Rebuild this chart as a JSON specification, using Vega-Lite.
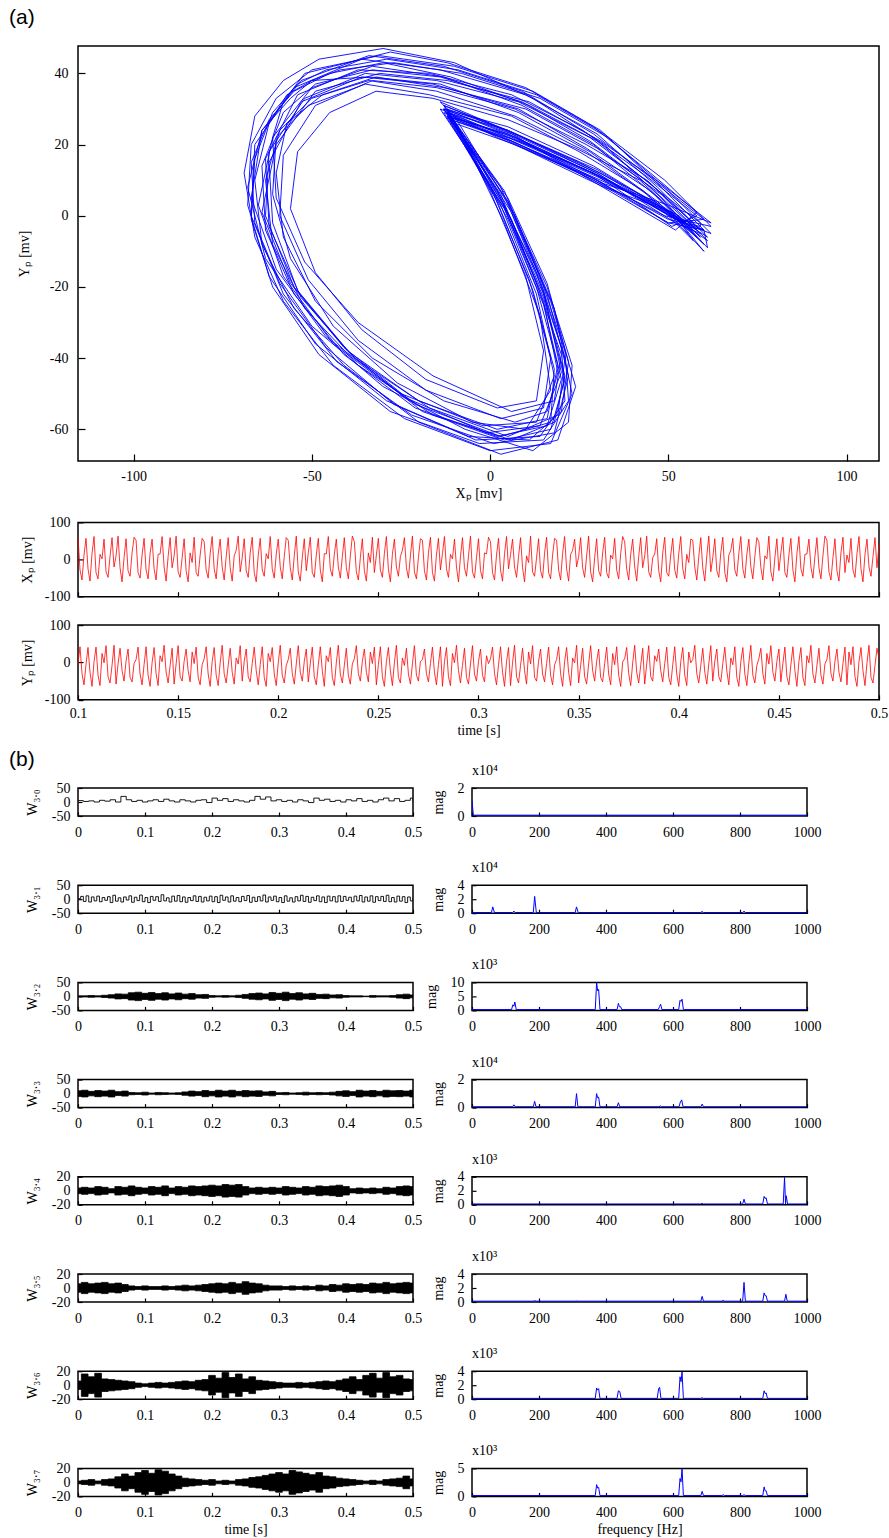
{
"$schema":"https://vega.github.io/schema/vega-lite/v6.json",
"background":"white",
"padding":{"left":8,"top":6,"right":0,"bottom":0},
"spacing":9,
"config":{
"font":"Liberation Serif, Times New Roman, serif",
"locale":{"number":{"decimal":".","thousands":",","grouping":[3],"currency":["$",""],"minus":"-"}},
"view":{"stroke":"black","strokeWidth":1.5},
"axis":{"domain":false,"grid":false,"tickColor":"black","tickWidth":1.2,"tickSize":-4,"labelFont":"Liberation Serif, Times New Roman, serif","labelFontSize":14,"labelColor":"black","labelOverlap":false,"labelFlush":false,"labelPadding":13,"titleFont":"Liberation Serif, Times New Roman, serif","titleFontSize":14,"titleFontWeight":"normal","titleColor":"black","titlePadding":3},
"axisY":{"labelPadding":12,"titlePadding":12},
"title":{"font":"Liberation Serif, Times New Roman, serif","fontSize":14,"fontWeight":"normal","color":"black","anchor":"start","frame":"group"}
},
"datasets":{
"ph":[{"i":0,"x":59,"y":-4},{"i":1,"x":45,"y":9},{"i":2,"x":28,"y":22},{"i":3,"x":8,"y":32},{"i":4,"x":-15,"y":38},{"i":5,"x":-35,"y":40},{"i":6,"x":-52,"y":33},{"i":7,"x":-62,"y":18},{"i":8,"x":-63,"y":0},{"i":9,"x":-55,"y":-20},{"i":10,"x":-40,"y":-38},{"i":11,"x":-20,"y":-52},{"i":12,"x":2,"y":-60},{"i":13,"x":16,"y":-57},{"i":14,"x":19,"y":-42},{"i":15,"x":13,"y":-20},{"i":16,"x":3,"y":5},{"i":17,"x":-12,"y":29},{"i":18,"x":5,"y":22},{"i":19,"x":30,"y":11},{"i":20,"x":50,"y":1},
{"i":21,"x":61,"y":-6},{"i":22,"x":47,"y":8},{"i":23,"x":30,"y":23},{"i":24,"x":10,"y":34},{"i":25,"x":-14,"y":41},{"i":26,"x":-36,"y":44},{"i":27,"x":-55,"y":36},{"i":28,"x":-66,"y":20},{"i":29,"x":-67,"y":0},{"i":30,"x":-58,"y":-22},{"i":31,"x":-43,"y":-41},{"i":32,"x":-22,"y":-56},{"i":33,"x":1,"y":-64},{"i":34,"x":18,"y":-61},{"i":35,"x":22,"y":-45},{"i":36,"x":16,"y":-22},{"i":37,"x":5,"y":4},{"i":38,"x":-13,"y":31},{"i":39,"x":4,"y":24},{"i":40,"x":30,"y":12},{"i":41,"x":52,"y":-1},
{"i":42,"x":57,"y":-2},{"i":43,"x":44,"y":10},{"i":44,"x":27,"y":20},{"i":45,"x":7,"y":30},{"i":46,"x":-15,"y":36},{"i":47,"x":-33,"y":38},{"i":48,"x":-49,"y":31},{"i":49,"x":-58,"y":17},{"i":50,"x":-59,"y":0},{"i":51,"x":-51,"y":-18},{"i":52,"x":-37,"y":-35},{"i":53,"x":-18,"y":-49},{"i":54,"x":3,"y":-57},{"i":55,"x":15,"y":-54},{"i":56,"x":17,"y":-40},{"i":57,"x":11,"y":-18},{"i":58,"x":1,"y":6},{"i":59,"x":-11,"y":27},{"i":60,"x":6,"y":21},{"i":61,"x":31,"y":10},{"i":62,"x":49,"y":2},
{"i":63,"x":60,"y":-8},{"i":64,"x":46,"y":6},{"i":65,"x":29,"y":20},{"i":66,"x":9,"y":31},{"i":67,"x":-13,"y":39},{"i":68,"x":-33,"y":42},{"i":69,"x":-50,"y":36},{"i":70,"x":-61,"y":22},{"i":71,"x":-65,"y":3},{"i":72,"x":-58,"y":-17},{"i":73,"x":-44,"y":-36},{"i":74,"x":-24,"y":-51},{"i":75,"x":-1,"y":-61},{"i":76,"x":14,"y":-59},{"i":77,"x":20,"y":-44},{"i":78,"x":15,"y":-21},{"i":79,"x":4,"y":3},{"i":80,"x":-14,"y":30},{"i":81,"x":3,"y":23},{"i":82,"x":29,"y":12},{"i":83,"x":51,"y":-3},
{"i":84,"x":58,"y":0},{"i":85,"x":44,"y":11},{"i":86,"x":26,"y":24},{"i":87,"x":6,"y":34},{"i":88,"x":-17,"y":40},{"i":89,"x":-37,"y":41},{"i":90,"x":-54,"y":34},{"i":91,"x":-63,"y":16},{"i":92,"x":-62,"y":-3},{"i":93,"x":-53,"y":-23},{"i":94,"x":-38,"y":-40},{"i":95,"x":-17,"y":-54},{"i":96,"x":5,"y":-62},{"i":97,"x":19,"y":-56},{"i":98,"x":21,"y":-40},{"i":99,"x":14,"y":-18},{"i":100,"x":2,"y":7},{"i":101,"x":-11,"y":28},{"i":102,"x":7,"y":22},{"i":103,"x":32,"y":9},{"i":104,"x":50,"y":3},
{"i":105,"x":62,"y":-2},{"i":106,"x":48,"y":9},{"i":107,"x":31,"y":21},{"i":108,"x":11,"y":32},{"i":109,"x":-12,"y":38},{"i":110,"x":-31,"y":40},{"i":111,"x":-49,"y":35},{"i":112,"x":-60,"y":20},{"i":113,"x":-64,"y":1},{"i":114,"x":-56,"y":-19},{"i":115,"x":-41,"y":-37},{"i":116,"x":-21,"y":-53},{"i":117,"x":3,"y":-62},{"i":118,"x":17,"y":-58},{"i":119,"x":18,"y":-43},{"i":120,"x":12,"y":-21},{"i":121,"x":2,"y":4},{"i":122,"x":-12,"y":28},{"i":123,"x":5,"y":23},{"i":124,"x":31,"y":11},{"i":125,"x":53,"y":0},
{"i":126,"x":59,"y":-6},{"i":127,"x":45,"y":7},{"i":128,"x":27,"y":19},{"i":129,"x":8,"y":30},{"i":130,"x":-16,"y":37},{"i":131,"x":-36,"y":39},{"i":132,"x":-53,"y":32},{"i":133,"x":-62,"y":15},{"i":134,"x":-61,"y":-2},{"i":135,"x":-54,"y":-21},{"i":136,"x":-39,"y":-39},{"i":137,"x":-19,"y":-55},{"i":138,"x":4,"y":-63},{"i":139,"x":17,"y":-60},{"i":140,"x":21,"y":-46},{"i":141,"x":15,"y":-23},{"i":142,"x":4,"y":2},{"i":143,"x":-13,"y":29},{"i":144,"x":4,"y":22},{"i":145,"x":29,"y":10},{"i":146,"x":50,"y":-2},
{"i":147,"x":60,"y":-1},{"i":148,"x":46,"y":10},{"i":149,"x":29,"y":23},{"i":150,"x":9,"y":35},{"i":151,"x":-13,"y":42},{"i":152,"x":-34,"y":45},{"i":153,"x":-53,"y":38},{"i":154,"x":-64,"y":24},{"i":155,"x":-67,"y":5},{"i":156,"x":-60,"y":-15},{"i":157,"x":-46,"y":-34},{"i":158,"x":-25,"y":-50},{"i":159,"x":-2,"y":-59},{"i":160,"x":13,"y":-58},{"i":161,"x":18,"y":-45},{"i":162,"x":13,"y":-22},{"i":163,"x":3,"y":3},{"i":164,"x":-12,"y":30},{"i":165,"x":5,"y":24},{"i":166,"x":30,"y":13},{"i":167,"x":52,"y":0},{"i":168,"x":60,"y":-4},
{"i":169,"x":61,"y":-9},{"i":170,"x":48,"y":5},{"i":171,"x":32,"y":20},{"i":172,"x":12,"y":33},{"i":173,"x":-10,"y":43},{"i":174,"x":-30,"y":47},{"i":175,"x":-48,"y":44},{"i":176,"x":-58,"y":38},{"i":177,"x":-66,"y":28},{"i":178,"x":-69,"y":12},{"i":179,"x":-66,"y":-6},{"i":180,"x":-58,"y":-24},{"i":181,"x":-44,"y":-42},{"i":182,"x":-24,"y":-57},{"i":183,"x":0,"y":-66},{"i":184,"x":17,"y":-64},{"i":185,"x":23,"y":-50},{"i":186,"x":18,"y":-26},{"i":187,"x":7,"y":0},{"i":188,"x":-10,"y":28},{"i":189,"x":-14,"y":32},{"i":190,"x":0,"y":26},{"i":191,"x":25,"y":15},{"i":192,"x":48,"y":3},
{"i":193,"x":56,"y":-3},{"i":194,"x":42,"y":10},{"i":195,"x":24,"y":19},{"i":196,"x":5,"y":27},{"i":197,"x":-16,"y":33},{"i":198,"x":-32,"y":35},{"i":199,"x":-45,"y":29},{"i":200,"x":-54,"y":18},{"i":201,"x":-56,"y":2},{"i":202,"x":-49,"y":-16},{"i":203,"x":-36,"y":-32},{"i":204,"x":-18,"y":-46},{"i":205,"x":2,"y":-54},{"i":206,"x":13,"y":-52},{"i":207,"x":15,"y":-38},{"i":208,"x":10,"y":-17},{"i":209,"x":0,"y":7},{"i":210,"x":-10,"y":26},{"i":211,"x":7,"y":20},{"i":212,"x":32,"y":8},{"i":213,"x":51,"y":1},
{"i":214,"x":60,"y":-10},{"i":215,"x":47,"y":4},{"i":216,"x":28,"y":18},{"i":217,"x":8,"y":29},{"i":218,"x":-14,"y":37},{"i":219,"x":-34,"y":39},{"i":220,"x":-50,"y":38},{"i":221,"x":-57,"y":34},{"i":222,"x":-62,"y":26},{"i":223,"x":-66,"y":10},{"i":224,"x":-64,"y":-8},{"i":225,"x":-55,"y":-26},{"i":226,"x":-41,"y":-42},{"i":227,"x":-20,"y":-58},{"i":228,"x":3,"y":-67},{"i":229,"x":19,"y":-63},{"i":230,"x":24,"y":-48},{"i":231,"x":17,"y":-24},{"i":232,"x":6,"y":1},{"i":233,"x":-13,"y":30},{"i":234,"x":6,"y":23},{"i":235,"x":30,"y":9},{"i":236,"x":52,"y":-4},
{"i":237,"x":58,"y":1},{"i":238,"x":45,"y":12},{"i":239,"x":29,"y":25},{"i":240,"x":10,"y":36},{"i":241,"x":-12,"y":43},{"i":242,"x":-28,"y":46},{"i":243,"x":-44,"y":42},{"i":244,"x":-52,"y":40},{"i":245,"x":-58,"y":32},{"i":246,"x":-61,"y":22},{"i":247,"x":-60,"y":5},{"i":248,"x":-52,"y":-13},{"i":249,"x":-37,"y":-30},{"i":250,"x":-16,"y":-45},{"i":251,"x":6,"y":-55},{"i":252,"x":18,"y":-52},{"i":253,"x":20,"y":-39},{"i":254,"x":13,"y":-19},{"i":255,"x":3,"y":6},{"i":256,"x":-11,"y":27},{"i":257,"x":8,"y":21},{"i":258,"x":33,"y":10},{"i":259,"x":54,"y":-2},
{"i":260,"x":62,"y":-5},{"i":261,"x":49,"y":8},{"i":262,"x":33,"y":22},{"i":263,"x":14,"y":33},{"i":264,"x":-8,"y":40},{"i":265,"x":-27,"y":43},{"i":266,"x":-42,"y":41},{"i":267,"x":-50,"y":38},{"i":268,"x":-56,"y":33},{"i":269,"x":-64,"y":24},{"i":270,"x":-68,"y":8},{"i":271,"x":-63,"y":-12},{"i":272,"x":-50,"y":-31},{"i":273,"x":-30,"y":-48},{"i":274,"x":-7,"y":-60},{"i":275,"x":12,"y":-66},{"i":276,"x":22,"y":-58},{"i":277,"x":23,"y":-42},{"i":278,"x":16,"y":-20},{"i":279,"x":5,"y":4},{"i":280,"x":-13,"y":30},{"i":281,"x":5,"y":25},{"i":282,"x":29,"y":14},{"i":283,"x":52,"y":0},
{"i":284,"x":57,"y":-7},{"i":285,"x":43,"y":7},{"i":286,"x":25,"y":18},{"i":287,"x":6,"y":28},{"i":288,"x":-17,"y":34},{"i":289,"x":-35,"y":37},{"i":290,"x":-51,"y":31},{"i":291,"x":-60,"y":22},{"i":292,"x":-61,"y":6},{"i":293,"x":-56,"y":-12},{"i":294,"x":-44,"y":-31},{"i":295,"x":-26,"y":-47},{"i":296,"x":-5,"y":-58},{"i":297,"x":10,"y":-60},{"i":298,"x":17,"y":-49},{"i":299,"x":14,"y":-28},{"i":300,"x":4,"y":-2},{"i":301,"x":-9,"y":25},{"i":302,"x":-12,"y":29},{"i":303,"x":2,"y":22},{"i":304,"x":28,"y":11},{"i":305,"x":50,"y":-1},{"i":306,"x":59,"y":-3},
{"i":307,"x":59,"y":-2},{"i":308,"x":46,"y":8},{"i":309,"x":30,"y":21},{"i":310,"x":11,"y":31},{"i":311,"x":-11,"y":39},{"i":312,"x":-30,"y":43},{"i":313,"x":-45,"y":40},{"i":314,"x":-55,"y":35},{"i":315,"x":-62,"y":27},{"i":316,"x":-67,"y":15},{"i":317,"x":-66,"y":-2},{"i":318,"x":-59,"y":-19},{"i":319,"x":-46,"y":-37},{"i":320,"x":-27,"y":-53},{"i":321,"x":-4,"y":-63},{"i":322,"x":14,"y":-62},{"i":323,"x":21,"y":-52},{"i":324,"x":20,"y":-37},{"i":325,"x":13,"y":-16},{"i":326,"x":3,"y":8},{"i":327,"x":-12,"y":28},{"i":328,"x":4,"y":23},{"i":329,"x":29,"y":12},{"i":330,"x":51,"y":0},
{"i":331,"x":61,"y":-7},{"i":332,"x":48,"y":6},{"i":333,"x":30,"y":19},{"i":334,"x":10,"y":30},{"i":335,"x":-13,"y":36},{"i":336,"x":-32,"y":39},{"i":337,"x":-47,"y":34},{"i":338,"x":-57,"y":26},{"i":339,"x":-60,"y":12},{"i":340,"x":-58,"y":-6},{"i":341,"x":-49,"y":-24},{"i":342,"x":-33,"y":-40},{"i":343,"x":-13,"y":-52},{"i":344,"x":7,"y":-58},{"i":345,"x":16,"y":-55},{"i":346,"x":19,"y":-44},{"i":347,"x":15,"y":-24},{"i":348,"x":6,"y":-1},{"i":349,"x":-6,"y":20},{"i":350,"x":-12,"y":28},{"i":351,"x":6,"y":21},{"i":352,"x":30,"y":10},{"i":353,"x":50,"y":-2},
{"i":354,"x":60,"y":-4},{"i":355,"x":47,"y":9},{"i":356,"x":31,"y":24},{"i":357,"x":12,"y":35},{"i":358,"x":-10,"y":42},{"i":359,"x":-31,"y":45},{"i":360,"x":-50,"y":41},{"i":361,"x":-60,"y":33},{"i":362,"x":-67,"y":20},{"i":363,"x":-68,"y":3},{"i":364,"x":-62,"y":-17},{"i":365,"x":-49,"y":-36},{"i":366,"x":-29,"y":-52},{"i":367,"x":-6,"y":-62},{"i":368,"x":11,"y":-63},{"i":369,"x":20,"y":-55},{"i":370,"x":22,"y":-41},{"i":371,"x":16,"y":-19},{"i":372,"x":5,"y":5},{"i":373,"x":-13,"y":31},{"i":374,"x":5,"y":24},{"i":375,"x":31,"y":12},{"i":376,"x":53,"y":-1},
{"i":377,"x":58,"y":-6},{"i":378,"x":44,"y":6},{"i":379,"x":27,"y":18},{"i":380,"x":7,"y":28},{"i":381,"x":-15,"y":35},{"i":382,"x":-34,"y":38},{"i":383,"x":-50,"y":33},{"i":384,"x":-59,"y":24},{"i":385,"x":-63,"y":10},{"i":386,"x":-61,"y":-8},{"i":387,"x":-52,"y":-26},{"i":388,"x":-37,"y":-42},{"i":389,"x":-16,"y":-56},{"i":390,"x":6,"y":-63},{"i":391,"x":18,"y":-58},{"i":392,"x":21,"y":-45},{"i":393,"x":15,"y":-22},{"i":394,"x":4,"y":2},{"i":395,"x":-12,"y":28},{"i":396,"x":3,"y":22},{"i":397,"x":27,"y":11},{"i":398,"x":49,"y":0},
{"i":399,"x":62,"y":-3},{"i":400,"x":49,"y":10},{"i":401,"x":32,"y":23},{"i":402,"x":13,"y":34},{"i":403,"x":-9,"y":41},{"i":404,"x":-29,"y":44},{"i":405,"x":-46,"y":41},{"i":406,"x":-54,"y":37},{"i":407,"x":-61,"y":29},{"i":408,"x":-66,"y":16},{"i":409,"x":-67,"y":-1},{"i":410,"x":-61,"y":-20},{"i":411,"x":-48,"y":-39},{"i":412,"x":-28,"y":-55},{"i":413,"x":-3,"y":-64},{"i":414,"x":15,"y":-63},{"i":415,"x":22,"y":-52},{"i":416,"x":21,"y":-38},{"i":417,"x":14,"y":-17},{"i":418,"x":4,"y":7},{"i":419,"x":-12,"y":29},{"i":420,"x":5,"y":24},{"i":421,"x":30,"y":12},{"i":422,"x":52,"y":-2},
{"i":423,"x":59,"y":-5},{"i":424,"x":45,"y":8},{"i":425,"x":28,"y":21},{"i":426,"x":9,"y":32},{"i":427,"x":-14,"y":39},{"i":428,"x":-33,"y":41},{"i":429,"x":-49,"y":37},{"i":430,"x":-58,"y":29},{"i":431,"x":-64,"y":14},{"i":432,"x":-63,"y":-4},{"i":433,"x":-55,"y":-22},{"i":434,"x":-41,"y":-39},{"i":435,"x":-21,"y":-54},{"i":436,"x":2,"y":-62},{"i":437,"x":16,"y":-59},{"i":438,"x":20,"y":-46},{"i":439,"x":15,"y":-25},{"i":440,"x":5,"y":-1},{"i":441,"x":-6,"y":19},{"i":442,"x":-13,"y":30},{"i":443,"x":5,"y":23},{"i":444,"x":31,"y":11},{"i":445,"x":52,"y":-1},{"i":446,"x":60,"y":-4}],
"ts":[{"t":0.100,"x":60,"y":-3},{"t":0.101,"x":-28,"y":42},{"t":0.102,"x":-55,"y":-30},{"t":0.103,"x":12,"y":-60},{"t":0.104,"x":57,"y":-6},{"t":0.105,"x":-25,"y":40},{"t":0.106,"x":-58,"y":-26},{"t":0.107,"x":16,"y":-64},{"t":0.108,"x":62,"y":2},{"t":0.109,"x":-35,"y":41},
{"t":0.110,"x":-52,"y":-34},{"t":0.111,"x":14,"y":-62},{"t":0.112,"x":2,"y":24},{"t":0.113,"x":55,"y":-1},{"t":0.114,"x":-33,"y":45},{"t":0.115,"x":-48,"y":-38},{"t":0.116,"x":8,"y":-55},{"t":0.117,"x":59,"y":-8},{"t":0.118,"x":-20,"y":46},{"t":0.119,"x":10,"y":-58},
{"t":0.120,"x":63,"y":-4},{"t":0.121,"x":-22,"y":38},{"t":0.122,"x":-60,"y":-22},{"t":0.123,"x":5,"y":-50},{"t":0.124,"x":56,"y":3},{"t":0.125,"x":-30,"y":36},{"t":0.126,"x":-45,"y":-40},{"t":0.127,"x":18,"y":-52},{"t":0.128,"x":60,"y":-3},{"t":0.129,"x":52,"y":8},
{"t":0.130,"x":-35,"y":41},{"t":0.131,"x":-50,"y":-31},{"t":0.132,"x":12,"y":-60},{"t":0.133,"x":57,"y":-6},{"t":0.134,"x":-28,"y":42},{"t":0.135,"x":-52,"y":-34},{"t":0.136,"x":16,"y":-64},{"t":0.137,"x":55,"y":-1},{"t":0.138,"x":-25,"y":40},{"t":0.139,"x":-55,"y":-30},
{"t":0.140,"x":14,"y":-62},{"t":0.141,"x":15,"y":18},{"t":0.142,"x":62,"y":2},{"t":0.143,"x":-20,"y":46},{"t":0.144,"x":-58,"y":-26},{"t":0.145,"x":8,"y":-55},{"t":0.146,"x":59,"y":-8},{"t":0.147,"x":-22,"y":38},{"t":0.148,"x":10,"y":-58},{"t":0.149,"x":63,"y":-4},
{"t":0.150,"x":-33,"y":45},{"t":0.151,"x":-48,"y":-38},{"t":0.152,"x":5,"y":-50},{"t":0.153,"x":56,"y":3},{"t":0.154,"x":-30,"y":36},{"t":0.155,"x":-60,"y":-22},{"t":0.156,"x":18,"y":-52},{"t":0.157,"x":-8,"y":28},{"t":0.158,"x":60,"y":-3},{"t":0.159,"x":-35,"y":41},
{"t":0.160,"x":-45,"y":-40},{"t":0.161,"x":12,"y":-60},{"t":0.162,"x":57,"y":-6},{"t":0.163,"x":48,"y":10},{"t":0.164,"x":-28,"y":42},{"t":0.165,"x":-50,"y":-31},{"t":0.166,"x":16,"y":-64},{"t":0.167,"x":62,"y":2},{"t":0.168,"x":-25,"y":40},{"t":0.169,"x":-52,"y":-34},
{"t":0.170,"x":14,"y":-62},{"t":0.171,"x":55,"y":-1},{"t":0.172,"x":-20,"y":46},{"t":0.173,"x":-55,"y":-30},{"t":0.174,"x":8,"y":-55},{"t":0.175,"x":59,"y":-8},{"t":0.176,"x":-22,"y":38},{"t":0.177,"x":-58,"y":-26},{"t":0.178,"x":10,"y":-58},{"t":0.179,"x":25,"y":12},
{"t":0.180,"x":63,"y":-4},{"t":0.181,"x":-33,"y":45},{"t":0.182,"x":5,"y":-50},{"t":0.183,"x":56,"y":3},{"t":0.184,"x":-30,"y":36},{"t":0.185,"x":-48,"y":-38},{"t":0.186,"x":18,"y":-52},{"t":0.187,"x":60,"y":-3},{"t":0.188,"x":-35,"y":41},{"t":0.189,"x":-60,"y":-22},
{"t":0.190,"x":12,"y":-60},{"t":0.191,"x":57,"y":-6},{"t":0.192,"x":-28,"y":42},{"t":0.193,"x":-45,"y":-40},{"t":0.194,"x":16,"y":-64},{"t":0.195,"x":2,"y":24},{"t":0.196,"x":62,"y":2},{"t":0.197,"x":-25,"y":40},{"t":0.198,"x":-50,"y":-31},{"t":0.199,"x":14,"y":-62},
{"t":0.200,"x":55,"y":-1},{"t":0.201,"x":-20,"y":46},{"t":0.202,"x":-52,"y":-34},{"t":0.203,"x":8,"y":-55},{"t":0.204,"x":59,"y":-8},{"t":0.205,"x":52,"y":8},{"t":0.206,"x":-22,"y":38},{"t":0.207,"x":-55,"y":-30},{"t":0.208,"x":10,"y":-58},{"t":0.209,"x":63,"y":-4},
{"t":0.210,"x":-33,"y":45},{"t":0.211,"x":-58,"y":-26},{"t":0.212,"x":5,"y":-50},{"t":0.213,"x":56,"y":3},{"t":0.214,"x":-30,"y":36},{"t":0.215,"x":18,"y":-52},{"t":0.216,"x":60,"y":-3},{"t":0.217,"x":-35,"y":41},{"t":0.218,"x":-48,"y":-38},{"t":0.219,"x":12,"y":-60},
{"t":0.220,"x":57,"y":-6},{"t":0.221,"x":-28,"y":42},{"t":0.222,"x":-60,"y":-22},{"t":0.223,"x":16,"y":-64},{"t":0.224,"x":15,"y":18},{"t":0.225,"x":62,"y":2},{"t":0.226,"x":-25,"y":40},{"t":0.227,"x":-45,"y":-40},{"t":0.228,"x":14,"y":-62},{"t":0.229,"x":55,"y":-1},
{"t":0.230,"x":-20,"y":46},{"t":0.231,"x":-50,"y":-31},{"t":0.232,"x":8,"y":-55},{"t":0.233,"x":59,"y":-8},{"t":0.234,"x":-22,"y":38},{"t":0.235,"x":-52,"y":-34},{"t":0.236,"x":10,"y":-58},{"t":0.237,"x":63,"y":-4},{"t":0.238,"x":48,"y":10},{"t":0.239,"x":-33,"y":45},
{"t":0.240,"x":-55,"y":-30},{"t":0.241,"x":5,"y":-50},{"t":0.242,"x":56,"y":3},{"t":0.243,"x":-30,"y":36},{"t":0.244,"x":-58,"y":-26},{"t":0.245,"x":18,"y":-52},{"t":0.246,"x":-8,"y":28},{"t":0.247,"x":60,"y":-3},{"t":0.248,"x":-35,"y":41},{"t":0.249,"x":12,"y":-60},
{"t":0.250,"x":57,"y":-6},{"t":0.251,"x":-28,"y":42},{"t":0.252,"x":-48,"y":-38},{"t":0.253,"x":16,"y":-64},{"t":0.254,"x":62,"y":2},{"t":0.255,"x":-25,"y":40},{"t":0.256,"x":-60,"y":-22},{"t":0.257,"x":14,"y":-62},{"t":0.258,"x":55,"y":-1},{"t":0.259,"x":-20,"y":46},
{"t":0.260,"x":-45,"y":-40},{"t":0.261,"x":8,"y":-55},{"t":0.262,"x":25,"y":12},{"t":0.263,"x":59,"y":-8},{"t":0.264,"x":-22,"y":38},{"t":0.265,"x":-50,"y":-31},{"t":0.266,"x":10,"y":-58},{"t":0.267,"x":63,"y":-4},{"t":0.268,"x":-33,"y":45},{"t":0.269,"x":-52,"y":-34},
{"t":0.270,"x":5,"y":-50},{"t":0.271,"x":56,"y":3},{"t":0.272,"x":52,"y":8},{"t":0.273,"x":-30,"y":36},{"t":0.274,"x":-55,"y":-30},{"t":0.275,"x":18,"y":-52},{"t":0.276,"x":60,"y":-3},{"t":0.277,"x":-35,"y":41},{"t":0.278,"x":-58,"y":-26},{"t":0.279,"x":12,"y":-60},
{"t":0.280,"x":57,"y":-6},{"t":0.281,"x":-28,"y":42},{"t":0.282,"x":16,"y":-64},{"t":0.283,"x":62,"y":2},{"t":0.284,"x":-25,"y":40},{"t":0.285,"x":-48,"y":-38},{"t":0.286,"x":14,"y":-62},{"t":0.287,"x":2,"y":24},{"t":0.288,"x":55,"y":-1},{"t":0.289,"x":-20,"y":46},
{"t":0.290,"x":-60,"y":-22},{"t":0.291,"x":8,"y":-55},{"t":0.292,"x":59,"y":-8},{"t":0.293,"x":-22,"y":38},{"t":0.294,"x":-45,"y":-40},{"t":0.295,"x":10,"y":-58},{"t":0.296,"x":63,"y":-4},{"t":0.297,"x":-33,"y":45},{"t":0.298,"x":-50,"y":-31},{"t":0.299,"x":5,"y":-50},
{"t":0.300,"x":56,"y":3},{"t":0.301,"x":-30,"y":36},{"t":0.302,"x":-52,"y":-34},{"t":0.303,"x":18,"y":-52},{"t":0.304,"x":15,"y":18},{"t":0.305,"x":60,"y":-3},{"t":0.306,"x":48,"y":10},{"t":0.307,"x":-35,"y":41},{"t":0.308,"x":-55,"y":-30},{"t":0.309,"x":12,"y":-60},
{"t":0.310,"x":57,"y":-6},{"t":0.311,"x":-28,"y":42},{"t":0.312,"x":-58,"y":-26},{"t":0.313,"x":16,"y":-64},{"t":0.314,"x":62,"y":2},{"t":0.315,"x":-25,"y":40},{"t":0.316,"x":14,"y":-62},{"t":0.317,"x":55,"y":-1},{"t":0.318,"x":-20,"y":46},{"t":0.319,"x":-48,"y":-38},
{"t":0.320,"x":8,"y":-55},{"t":0.321,"x":59,"y":-8},{"t":0.322,"x":-22,"y":38},{"t":0.323,"x":-60,"y":-22},{"t":0.324,"x":10,"y":-58},{"t":0.325,"x":-8,"y":28},{"t":0.326,"x":63,"y":-4},{"t":0.327,"x":-33,"y":45},{"t":0.328,"x":-45,"y":-40},{"t":0.329,"x":5,"y":-50},
{"t":0.330,"x":56,"y":3},{"t":0.331,"x":-30,"y":36},{"t":0.332,"x":-50,"y":-31},{"t":0.333,"x":18,"y":-52},{"t":0.334,"x":60,"y":-3},{"t":0.335,"x":-35,"y":41},{"t":0.336,"x":-52,"y":-34},{"t":0.337,"x":12,"y":-60},{"t":0.338,"x":57,"y":-6},{"t":0.339,"x":52,"y":8},
{"t":0.340,"x":-28,"y":42},{"t":0.341,"x":-55,"y":-30},{"t":0.342,"x":16,"y":-64},{"t":0.343,"x":62,"y":2},{"t":0.344,"x":-25,"y":40},{"t":0.345,"x":-58,"y":-26},{"t":0.346,"x":14,"y":-62},{"t":0.347,"x":25,"y":12},{"t":0.348,"x":55,"y":-1},{"t":0.349,"x":-20,"y":46},
{"t":0.350,"x":8,"y":-55},{"t":0.351,"x":59,"y":-8},{"t":0.352,"x":-22,"y":38},{"t":0.353,"x":-48,"y":-38},{"t":0.354,"x":10,"y":-58},{"t":0.355,"x":63,"y":-4},{"t":0.356,"x":-33,"y":45},{"t":0.357,"x":-60,"y":-22},{"t":0.358,"x":5,"y":-50},{"t":0.359,"x":56,"y":3},
{"t":0.360,"x":-30,"y":36},{"t":0.361,"x":-45,"y":-40},{"t":0.362,"x":18,"y":-52},{"t":0.363,"x":60,"y":-3},{"t":0.364,"x":-35,"y":41},{"t":0.365,"x":-50,"y":-31},{"t":0.366,"x":12,"y":-60},{"t":0.367,"x":2,"y":24},{"t":0.368,"x":57,"y":-6},{"t":0.369,"x":-28,"y":42},
{"t":0.370,"x":-52,"y":-34},{"t":0.371,"x":16,"y":-64},{"t":0.372,"x":62,"y":2},{"t":0.373,"x":48,"y":10},{"t":0.374,"x":-25,"y":40},{"t":0.375,"x":-55,"y":-30},{"t":0.376,"x":14,"y":-62},{"t":0.377,"x":55,"y":-1},{"t":0.378,"x":-20,"y":46},{"t":0.379,"x":-58,"y":-26},
{"t":0.380,"x":8,"y":-55},{"t":0.381,"x":59,"y":-8},{"t":0.382,"x":-22,"y":38},{"t":0.383,"x":10,"y":-58},{"t":0.384,"x":63,"y":-4},{"t":0.385,"x":-33,"y":45},{"t":0.386,"x":-48,"y":-38},{"t":0.387,"x":5,"y":-50},{"t":0.388,"x":15,"y":18},{"t":0.389,"x":56,"y":3},
{"t":0.390,"x":-30,"y":36},{"t":0.391,"x":-60,"y":-22},{"t":0.392,"x":18,"y":-52},{"t":0.393,"x":60,"y":-3},{"t":0.394,"x":-35,"y":41},{"t":0.395,"x":-45,"y":-40},{"t":0.396,"x":12,"y":-60},{"t":0.397,"x":57,"y":-6},{"t":0.398,"x":-28,"y":42},{"t":0.399,"x":-50,"y":-31},
{"t":0.400,"x":16,"y":-64},{"t":0.401,"x":62,"y":2},{"t":0.402,"x":-25,"y":40},{"t":0.403,"x":-52,"y":-34},{"t":0.404,"x":14,"y":-62},{"t":0.405,"x":-8,"y":28},{"t":0.406,"x":55,"y":-1},{"t":0.407,"x":52,"y":8},{"t":0.408,"x":-20,"y":46},{"t":0.409,"x":-55,"y":-30},
{"t":0.410,"x":8,"y":-55},{"t":0.411,"x":59,"y":-8},{"t":0.412,"x":-22,"y":38},{"t":0.413,"x":-58,"y":-26},{"t":0.414,"x":10,"y":-58},{"t":0.415,"x":63,"y":-4},{"t":0.416,"x":-33,"y":45},{"t":0.417,"x":5,"y":-50},{"t":0.418,"x":56,"y":3},{"t":0.419,"x":-30,"y":36},
{"t":0.420,"x":-48,"y":-38},{"t":0.421,"x":18,"y":-52},{"t":0.422,"x":60,"y":-3},{"t":0.423,"x":-35,"y":41},{"t":0.424,"x":-60,"y":-22},{"t":0.425,"x":12,"y":-60},{"t":0.426,"x":25,"y":12},{"t":0.427,"x":57,"y":-6},{"t":0.428,"x":-28,"y":42},{"t":0.429,"x":-45,"y":-40},
{"t":0.430,"x":16,"y":-64},{"t":0.431,"x":62,"y":2},{"t":0.432,"x":-25,"y":40},{"t":0.433,"x":-50,"y":-31},{"t":0.434,"x":14,"y":-62},{"t":0.435,"x":55,"y":-1},{"t":0.436,"x":-20,"y":46},{"t":0.437,"x":-52,"y":-34},{"t":0.438,"x":8,"y":-55},{"t":0.439,"x":59,"y":-8},
{"t":0.440,"x":48,"y":10},{"t":0.441,"x":-22,"y":38},{"t":0.442,"x":-55,"y":-30},{"t":0.443,"x":10,"y":-58},{"t":0.444,"x":2,"y":24},{"t":0.445,"x":63,"y":-4},{"t":0.446,"x":-33,"y":45},{"t":0.447,"x":-58,"y":-26},{"t":0.448,"x":5,"y":-50},{"t":0.449,"x":56,"y":3},
{"t":0.450,"x":-30,"y":36},{"t":0.451,"x":18,"y":-52},{"t":0.452,"x":60,"y":-3},{"t":0.453,"x":-35,"y":41},{"t":0.454,"x":-48,"y":-38},{"t":0.455,"x":12,"y":-60},{"t":0.456,"x":57,"y":-6},{"t":0.457,"x":-28,"y":42},{"t":0.458,"x":-60,"y":-22},{"t":0.459,"x":16,"y":-64},
{"t":0.460,"x":62,"y":2},{"t":0.461,"x":-25,"y":40},{"t":0.462,"x":-45,"y":-40},{"t":0.463,"x":14,"y":-62},{"t":0.464,"x":15,"y":18},{"t":0.465,"x":55,"y":-1},{"t":0.466,"x":-20,"y":46},{"t":0.467,"x":-50,"y":-31},{"t":0.468,"x":8,"y":-55},{"t":0.469,"x":59,"y":-8},
{"t":0.470,"x":-22,"y":38},{"t":0.471,"x":-52,"y":-34},{"t":0.472,"x":10,"y":-58},{"t":0.473,"x":63,"y":-4},{"t":0.474,"x":52,"y":8},{"t":0.475,"x":-33,"y":45},{"t":0.476,"x":-55,"y":-30},{"t":0.477,"x":5,"y":-50},{"t":0.478,"x":56,"y":3},{"t":0.479,"x":-30,"y":36},
{"t":0.480,"x":-58,"y":-26},{"t":0.481,"x":18,"y":-52},{"t":0.482,"x":60,"y":-3},{"t":0.483,"x":-35,"y":41},{"t":0.484,"x":12,"y":-60},{"t":0.485,"x":-8,"y":28},{"t":0.486,"x":57,"y":-6},{"t":0.487,"x":-28,"y":42},{"t":0.488,"x":-48,"y":-38},{"t":0.489,"x":16,"y":-64},
{"t":0.490,"x":62,"y":2},{"t":0.491,"x":-25,"y":40},{"t":0.492,"x":-60,"y":-22},{"t":0.493,"x":14,"y":-62},{"t":0.494,"x":55,"y":-1},{"t":0.495,"x":-20,"y":46},{"t":0.496,"x":-45,"y":-40},{"t":0.497,"x":8,"y":-55},{"t":0.498,"x":59,"y":-8},{"t":0.499,"x":-22,"y":38},
{"t":0.500,"x":40,"y":10}],
"w0":[{"t":0,"v":5},{"t":0.008,"v":2},{"t":0.016,"v":4},{"t":0.024,"v":0},{"t":0.032,"v":6},{"t":0.04,"v":3},{"t":0.048,"v":8},{"t":0.056,"v":0},{"t":0.064,"v":20},{"t":0.072,"v":8},{"t":0.08,"v":2},{"t":0.088,"v":6},{"t":0.096,"v":0},{"t":0.104,"v":4},{"t":0.112,"v":8},{"t":0.12,"v":2},{"t":0.128,"v":10},{"t":0.136,"v":4},{"t":0.144,"v":0},{"t":0.152,"v":8},{"t":0.16,"v":4},{"t":0.168,"v":0},{"t":0.176,"v":6},{"t":0.184,"v":8},{"t":0.192,"v":-2},{"t":0.2,"v":14},{"t":0.208,"v":6},{"t":0.216,"v":12},{"t":0.224,"v":2},{"t":0.232,"v":8},{"t":0.24,"v":4},{"t":0.248,"v":0},{"t":0.256,"v":6},{"t":0.264,"v":20},{"t":0.272,"v":10},{"t":0.28,"v":18},{"t":0.288,"v":4},{"t":0.296,"v":8},{"t":0.304,"v":2},{"t":0.312,"v":6},{"t":0.32,"v":0},{"t":0.328,"v":8},{"t":0.336,"v":4},{"t":0.344,"v":-2},{"t":0.352,"v":14},{"t":0.36,"v":6},{"t":0.368,"v":10},{"t":0.376,"v":2},{"t":0.384,"v":6},{"t":0.392,"v":0},{"t":0.4,"v":8},{"t":0.408,"v":4},{"t":0.416,"v":12},{"t":0.424,"v":2},{"t":0.432,"v":6},{"t":0.44,"v":0},{"t":0.448,"v":8},{"t":0.456,"v":14},{"t":0.464,"v":4},{"t":0.472,"v":12},{"t":0.48,"v":2},{"t":0.488,"v":6},{"t":0.496,"v":14},{"t":0.5,"v":4}],
"w1":[{"t":0,"v":2},{"t":0.004,"v":10},{"t":0.008,"v":-8},{"t":0.012,"v":12},{"t":0.016,"v":-10},{"t":0.02,"v":8},{"t":0.024,"v":-6},{"t":0.028,"v":11},{"t":0.032,"v":-9},{"t":0.036,"v":6},{"t":0.04,"v":-4},{"t":0.044,"v":9},{"t":0.048,"v":-12},{"t":0.052,"v":14},{"t":0.056,"v":-7},{"t":0.06,"v":5},{"t":0.064,"v":-10},{"t":0.068,"v":8},{"t":0.072,"v":-3},{"t":0.076,"v":12},{"t":0.08,"v":-11},{"t":0.084,"v":7},{"t":0.088,"v":-5},{"t":0.092,"v":15},{"t":0.096,"v":-9},{"t":0.1,"v":6},{"t":0.104,"v":-12},{"t":0.108,"v":10},{"t":0.112,"v":-4},{"t":0.116,"v":9},{"t":0.12,"v":-8},{"t":0.124,"v":16},{"t":0.128,"v":-6},{"t":0.132,"v":5},{"t":0.136,"v":-10},{"t":0.14,"v":11},{"t":0.144,"v":-7},{"t":0.148,"v":13},{"t":0.152,"v":-9},{"t":0.156,"v":8},{"t":0.16,"v":-11},{"t":0.164,"v":6},{"t":0.168,"v":-5},{"t":0.172,"v":12},{"t":0.176,"v":-8},{"t":0.18,"v":10},{"t":0.184,"v":-10},{"t":0.188,"v":7},{"t":0.192,"v":-6},{"t":0.196,"v":11},{"t":0.2,"v":-9},{"t":0.204,"v":9},{"t":0.208,"v":-12},{"t":0.212,"v":14},{"t":0.216,"v":-4},{"t":0.22,"v":8},{"t":0.224,"v":-10},{"t":0.228,"v":12},{"t":0.232,"v":-7},{"t":0.236,"v":6},{"t":0.24,"v":-9},{"t":0.244,"v":10},{"t":0.248,"v":-5},{"t":0.252,"v":13},{"t":0.256,"v":-11},{"t":0.26,"v":7},{"t":0.264,"v":-8},{"t":0.268,"v":9},{"t":0.272,"v":-6},{"t":0.276,"v":15},{"t":0.28,"v":-10},{"t":0.284,"v":8},{"t":0.288,"v":-4},{"t":0.292,"v":11},{"t":0.296,"v":-9},{"t":0.3,"v":6},{"t":0.304,"v":-12},{"t":0.308,"v":12},{"t":0.312,"v":-7},{"t":0.316,"v":5},{"t":0.32,"v":-10},{"t":0.324,"v":9},{"t":0.328,"v":-6},{"t":0.332,"v":14},{"t":0.336,"v":-8},{"t":0.34,"v":10},{"t":0.344,"v":-11},{"t":0.348,"v":7},{"t":0.352,"v":-5},{"t":0.356,"v":12},{"t":0.36,"v":-9},{"t":0.364,"v":8},{"t":0.368,"v":-12},{"t":0.372,"v":11},{"t":0.376,"v":-6},{"t":0.38,"v":9},{"t":0.384,"v":-10},{"t":0.388,"v":12},{"t":0.392,"v":-8},{"t":0.396,"v":10},{"t":0.4,"v":-4},{"t":0.404,"v":7},{"t":0.408,"v":-9},{"t":0.412,"v":11},{"t":0.416,"v":-6},{"t":0.42,"v":13},{"t":0.424,"v":-10},{"t":0.428,"v":8},{"t":0.432,"v":-7},{"t":0.436,"v":12},{"t":0.44,"v":-11},{"t":0.444,"v":9},{"t":0.448,"v":-5},{"t":0.452,"v":10},{"t":0.456,"v":-8},{"t":0.46,"v":14},{"t":0.464,"v":-9},{"t":0.468,"v":6},{"t":0.472,"v":-10},{"t":0.476,"v":11},{"t":0.48,"v":-7},{"t":0.484,"v":9},{"t":0.488,"v":-12},{"t":0.492,"v":8},{"t":0.496,"v":-6},{"t":0.5,"v":5}],
"env":[
{"w":2,"t":0,"l":-2,"h":2},{"w":2,"t":0.01,"l":-2,"h":2},{"w":2,"t":0.02,"l":-3,"h":3},{"w":2,"t":0.03,"l":-2,"h":2},{"w":2,"t":0.04,"l":-4,"h":4},{"w":2,"t":0.05,"l":-6,"h":6},{"w":2,"t":0.06,"l":-9,"h":9},{"w":2,"t":0.07,"l":-8,"h":8},{"w":2,"t":0.08,"l":-13,"h":13},{"w":2,"t":0.09,"l":-15,"h":15},{"w":2,"t":0.1,"l":-11,"h":11},{"w":2,"t":0.11,"l":-14,"h":14},{"w":2,"t":0.12,"l":-10,"h":10},{"w":2,"t":0.13,"l":-13,"h":13},{"w":2,"t":0.14,"l":-9,"h":9},{"w":2,"t":0.15,"l":-12,"h":12},{"w":2,"t":0.16,"l":-8,"h":8},{"w":2,"t":0.17,"l":-10,"h":10},{"w":2,"t":0.18,"l":-6,"h":6},{"w":2,"t":0.19,"l":-7,"h":7},{"w":2,"t":0.2,"l":-3,"h":3},{"w":2,"t":0.21,"l":-2,"h":2},{"w":2,"t":0.22,"l":-3,"h":3},{"w":2,"t":0.23,"l":-2,"h":2},{"w":2,"t":0.24,"l":-4,"h":4},{"w":2,"t":0.25,"l":-7,"h":7},{"w":2,"t":0.26,"l":-10,"h":10},{"w":2,"t":0.27,"l":-12,"h":12},{"w":2,"t":0.28,"l":-9,"h":9},{"w":2,"t":0.29,"l":-14,"h":14},{"w":2,"t":0.3,"l":-11,"h":11},{"w":2,"t":0.31,"l":-15,"h":15},{"w":2,"t":0.32,"l":-10,"h":10},{"w":2,"t":0.33,"l":-13,"h":13},{"w":2,"t":0.34,"l":-9,"h":9},{"w":2,"t":0.35,"l":-11,"h":11},{"w":2,"t":0.36,"l":-7,"h":7},{"w":2,"t":0.37,"l":-8,"h":8},{"w":2,"t":0.38,"l":-5,"h":5},{"w":2,"t":0.39,"l":-6,"h":6},{"w":2,"t":0.4,"l":-3,"h":3},{"w":2,"t":0.41,"l":-2,"h":2},{"w":2,"t":0.42,"l":-2,"h":2},{"w":2,"t":0.43,"l":-1,"h":1},{"w":2,"t":0.44,"l":-3,"h":3},{"w":2,"t":0.45,"l":-2,"h":2},{"w":2,"t":0.46,"l":-2,"h":2},{"w":2,"t":0.47,"l":-3,"h":3},{"w":2,"t":0.48,"l":-6,"h":6},{"w":2,"t":0.49,"l":-8,"h":8},{"w":2,"t":0.5,"l":-5,"h":5},
{"w":3,"t":0,"l":-10,"h":10},{"w":3,"t":0.01,"l":-12,"h":12},{"w":3,"t":0.02,"l":-8,"h":8},{"w":3,"t":0.03,"l":-11,"h":11},{"w":3,"t":0.04,"l":-9,"h":9},{"w":3,"t":0.05,"l":-12,"h":12},{"w":3,"t":0.06,"l":-7,"h":7},{"w":3,"t":0.07,"l":-9,"h":9},{"w":3,"t":0.08,"l":-4,"h":4},{"w":3,"t":0.09,"l":-3,"h":3},{"w":3,"t":0.1,"l":-5,"h":5},{"w":3,"t":0.11,"l":-2,"h":2},{"w":3,"t":0.12,"l":-4,"h":4},{"w":3,"t":0.13,"l":-3,"h":3},{"w":3,"t":0.14,"l":-2,"h":2},{"w":3,"t":0.15,"l":-3,"h":3},{"w":3,"t":0.16,"l":-6,"h":6},{"w":3,"t":0.17,"l":-9,"h":9},{"w":3,"t":0.18,"l":-7,"h":7},{"w":3,"t":0.19,"l":-11,"h":11},{"w":3,"t":0.2,"l":-8,"h":8},{"w":3,"t":0.21,"l":-12,"h":12},{"w":3,"t":0.22,"l":-9,"h":9},{"w":3,"t":0.23,"l":-12,"h":12},{"w":3,"t":0.24,"l":-8,"h":8},{"w":3,"t":0.25,"l":-11,"h":11},{"w":3,"t":0.26,"l":-9,"h":9},{"w":3,"t":0.27,"l":-10,"h":10},{"w":3,"t":0.28,"l":-6,"h":6},{"w":3,"t":0.29,"l":-8,"h":8},{"w":3,"t":0.3,"l":-3,"h":3},{"w":3,"t":0.31,"l":-4,"h":4},{"w":3,"t":0.32,"l":-2,"h":2},{"w":3,"t":0.33,"l":-3,"h":3},{"w":3,"t":0.34,"l":-5,"h":5},{"w":3,"t":0.35,"l":-3,"h":3},{"w":3,"t":0.36,"l":-4,"h":4},{"w":3,"t":0.37,"l":-3,"h":3},{"w":3,"t":0.38,"l":-5,"h":5},{"w":3,"t":0.39,"l":-8,"h":8},{"w":3,"t":0.4,"l":-10,"h":10},{"w":3,"t":0.41,"l":-7,"h":7},{"w":3,"t":0.42,"l":-12,"h":12},{"w":3,"t":0.43,"l":-9,"h":9},{"w":3,"t":0.44,"l":-11,"h":11},{"w":3,"t":0.45,"l":-8,"h":8},{"w":3,"t":0.46,"l":-12,"h":12},{"w":3,"t":0.47,"l":-10,"h":10},{"w":3,"t":0.48,"l":-11,"h":11},{"w":3,"t":0.49,"l":-9,"h":9},{"w":3,"t":0.5,"l":-12,"h":12},
{"w":4,"t":0,"l":-4,"h":4},{"w":4,"t":0.01,"l":-5,"h":5},{"w":4,"t":0.02,"l":-4,"h":4},{"w":4,"t":0.03,"l":-6,"h":6},{"w":4,"t":0.04,"l":-5,"h":5},{"w":4,"t":0.05,"l":-3,"h":3},{"w":4,"t":0.06,"l":-6,"h":6},{"w":4,"t":0.07,"l":-5,"h":5},{"w":4,"t":0.08,"l":-7,"h":7},{"w":4,"t":0.09,"l":-5,"h":5},{"w":4,"t":0.1,"l":-4,"h":4},{"w":4,"t":0.11,"l":-6,"h":6},{"w":4,"t":0.12,"l":-5,"h":5},{"w":4,"t":0.13,"l":-7,"h":7},{"w":4,"t":0.14,"l":-4,"h":4},{"w":4,"t":0.15,"l":-6,"h":6},{"w":4,"t":0.16,"l":-5,"h":5},{"w":4,"t":0.17,"l":-7,"h":7},{"w":4,"t":0.18,"l":-6,"h":6},{"w":4,"t":0.19,"l":-7,"h":7},{"w":4,"t":0.2,"l":-8,"h":8},{"w":4,"t":0.21,"l":-7,"h":7},{"w":4,"t":0.22,"l":-9,"h":9},{"w":4,"t":0.23,"l":-8,"h":8},{"w":4,"t":0.24,"l":-9,"h":9},{"w":4,"t":0.25,"l":-6,"h":6},{"w":4,"t":0.26,"l":-4,"h":4},{"w":4,"t":0.27,"l":-5,"h":5},{"w":4,"t":0.28,"l":-4,"h":4},{"w":4,"t":0.29,"l":-5,"h":5},{"w":4,"t":0.3,"l":-4,"h":4},{"w":4,"t":0.31,"l":-6,"h":6},{"w":4,"t":0.32,"l":-5,"h":5},{"w":4,"t":0.33,"l":-4,"h":4},{"w":4,"t":0.34,"l":-6,"h":6},{"w":4,"t":0.35,"l":-5,"h":5},{"w":4,"t":0.36,"l":-7,"h":7},{"w":4,"t":0.37,"l":-6,"h":6},{"w":4,"t":0.38,"l":-7,"h":7},{"w":4,"t":0.39,"l":-8,"h":8},{"w":4,"t":0.4,"l":-6,"h":6},{"w":4,"t":0.41,"l":-3,"h":3},{"w":4,"t":0.42,"l":-4,"h":4},{"w":4,"t":0.43,"l":-3,"h":3},{"w":4,"t":0.44,"l":-4,"h":4},{"w":4,"t":0.45,"l":-3,"h":3},{"w":4,"t":0.46,"l":-5,"h":5},{"w":4,"t":0.47,"l":-4,"h":4},{"w":4,"t":0.48,"l":-6,"h":6},{"w":4,"t":0.49,"l":-7,"h":7},{"w":4,"t":0.5,"l":-6,"h":6},
{"w":5,"t":0,"l":-6,"h":6},{"w":5,"t":0.01,"l":-8,"h":8},{"w":5,"t":0.02,"l":-6,"h":6},{"w":5,"t":0.03,"l":-7,"h":7},{"w":5,"t":0.04,"l":-8,"h":8},{"w":5,"t":0.05,"l":-6,"h":6},{"w":5,"t":0.06,"l":-7,"h":7},{"w":5,"t":0.07,"l":-5,"h":5},{"w":5,"t":0.08,"l":-3,"h":3},{"w":5,"t":0.09,"l":-2,"h":2},{"w":5,"t":0.1,"l":-3,"h":3},{"w":5,"t":0.11,"l":-2,"h":2},{"w":5,"t":0.12,"l":-2,"h":2},{"w":5,"t":0.13,"l":-3,"h":3},{"w":5,"t":0.14,"l":-2,"h":2},{"w":5,"t":0.15,"l":-3,"h":3},{"w":5,"t":0.16,"l":-4,"h":4},{"w":5,"t":0.17,"l":-3,"h":3},{"w":5,"t":0.18,"l":-4,"h":4},{"w":5,"t":0.19,"l":-5,"h":5},{"w":5,"t":0.2,"l":-6,"h":6},{"w":5,"t":0.21,"l":-7,"h":7},{"w":5,"t":0.22,"l":-6,"h":6},{"w":5,"t":0.23,"l":-8,"h":8},{"w":5,"t":0.24,"l":-6,"h":6},{"w":5,"t":0.25,"l":-9,"h":9},{"w":5,"t":0.26,"l":-7,"h":7},{"w":5,"t":0.27,"l":-6,"h":6},{"w":5,"t":0.28,"l":-4,"h":4},{"w":5,"t":0.29,"l":-3,"h":3},{"w":5,"t":0.3,"l":-3,"h":3},{"w":5,"t":0.31,"l":-2,"h":2},{"w":5,"t":0.32,"l":-3,"h":3},{"w":5,"t":0.33,"l":-2,"h":2},{"w":5,"t":0.34,"l":-3,"h":3},{"w":5,"t":0.35,"l":-2,"h":2},{"w":5,"t":0.36,"l":-4,"h":4},{"w":5,"t":0.37,"l":-3,"h":3},{"w":5,"t":0.38,"l":-5,"h":5},{"w":5,"t":0.39,"l":-4,"h":4},{"w":5,"t":0.4,"l":-6,"h":6},{"w":5,"t":0.41,"l":-5,"h":5},{"w":5,"t":0.42,"l":-6,"h":6},{"w":5,"t":0.43,"l":-5,"h":5},{"w":5,"t":0.44,"l":-7,"h":7},{"w":5,"t":0.45,"l":-6,"h":6},{"w":5,"t":0.46,"l":-8,"h":8},{"w":5,"t":0.47,"l":-6,"h":6},{"w":5,"t":0.48,"l":-7,"h":7},{"w":5,"t":0.49,"l":-8,"h":8},{"w":5,"t":0.5,"l":-7,"h":7},
{"w":6,"t":0,"l":-6,"h":6},{"w":6,"t":0.01,"l":-16,"h":16},{"w":6,"t":0.02,"l":-12,"h":12},{"w":6,"t":0.03,"l":-17,"h":17},{"w":6,"t":0.04,"l":-9,"h":9},{"w":6,"t":0.05,"l":-8,"h":8},{"w":6,"t":0.06,"l":-7,"h":7},{"w":6,"t":0.07,"l":-6,"h":6},{"w":6,"t":0.08,"l":-5,"h":5},{"w":6,"t":0.09,"l":-3,"h":3},{"w":6,"t":0.1,"l":-2,"h":2},{"w":6,"t":0.11,"l":-3,"h":3},{"w":6,"t":0.12,"l":-4,"h":4},{"w":6,"t":0.13,"l":-3,"h":3},{"w":6,"t":0.14,"l":-4,"h":4},{"w":6,"t":0.15,"l":-5,"h":5},{"w":6,"t":0.16,"l":-6,"h":6},{"w":6,"t":0.17,"l":-5,"h":5},{"w":6,"t":0.18,"l":-7,"h":7},{"w":6,"t":0.19,"l":-8,"h":8},{"w":6,"t":0.2,"l":-14,"h":14},{"w":6,"t":0.21,"l":-10,"h":10},{"w":6,"t":0.22,"l":-18,"h":18},{"w":6,"t":0.23,"l":-11,"h":11},{"w":6,"t":0.24,"l":-16,"h":16},{"w":6,"t":0.25,"l":-9,"h":9},{"w":6,"t":0.26,"l":-12,"h":12},{"w":6,"t":0.27,"l":-7,"h":7},{"w":6,"t":0.28,"l":-6,"h":6},{"w":6,"t":0.29,"l":-5,"h":5},{"w":6,"t":0.3,"l":-4,"h":4},{"w":6,"t":0.31,"l":-3,"h":3},{"w":6,"t":0.32,"l":-3,"h":3},{"w":6,"t":0.33,"l":-4,"h":4},{"w":6,"t":0.34,"l":-3,"h":3},{"w":6,"t":0.35,"l":-4,"h":4},{"w":6,"t":0.36,"l":-5,"h":5},{"w":6,"t":0.37,"l":-6,"h":6},{"w":6,"t":0.38,"l":-5,"h":5},{"w":6,"t":0.39,"l":-7,"h":7},{"w":6,"t":0.4,"l":-9,"h":9},{"w":6,"t":0.41,"l":-12,"h":12},{"w":6,"t":0.42,"l":-8,"h":8},{"w":6,"t":0.43,"l":-14,"h":14},{"w":6,"t":0.44,"l":-17,"h":17},{"w":6,"t":0.45,"l":-10,"h":10},{"w":6,"t":0.46,"l":-18,"h":18},{"w":6,"t":0.47,"l":-12,"h":12},{"w":6,"t":0.48,"l":-14,"h":14},{"w":6,"t":0.49,"l":-9,"h":9},{"w":6,"t":0.5,"l":-8,"h":8},
{"w":7,"t":0,"l":-2,"h":2},{"w":7,"t":0.01,"l":-3,"h":3},{"w":7,"t":0.02,"l":-4,"h":4},{"w":7,"t":0.03,"l":-2,"h":2},{"w":7,"t":0.04,"l":-4,"h":4},{"w":7,"t":0.05,"l":-5,"h":5},{"w":7,"t":0.06,"l":-8,"h":8},{"w":7,"t":0.07,"l":-12,"h":12},{"w":7,"t":0.08,"l":-9,"h":9},{"w":7,"t":0.09,"l":-14,"h":14},{"w":7,"t":0.1,"l":-17,"h":17},{"w":7,"t":0.11,"l":-13,"h":13},{"w":7,"t":0.12,"l":-18,"h":18},{"w":7,"t":0.13,"l":-16,"h":16},{"w":7,"t":0.14,"l":-12,"h":12},{"w":7,"t":0.15,"l":-9,"h":9},{"w":7,"t":0.16,"l":-6,"h":6},{"w":7,"t":0.17,"l":-5,"h":5},{"w":7,"t":0.18,"l":-4,"h":4},{"w":7,"t":0.19,"l":-3,"h":3},{"w":7,"t":0.2,"l":-4,"h":4},{"w":7,"t":0.21,"l":-2,"h":2},{"w":7,"t":0.22,"l":-3,"h":3},{"w":7,"t":0.23,"l":-2,"h":2},{"w":7,"t":0.24,"l":-4,"h":4},{"w":7,"t":0.25,"l":-5,"h":5},{"w":7,"t":0.26,"l":-7,"h":7},{"w":7,"t":0.27,"l":-8,"h":8},{"w":7,"t":0.28,"l":-10,"h":10},{"w":7,"t":0.29,"l":-12,"h":12},{"w":7,"t":0.3,"l":-14,"h":14},{"w":7,"t":0.31,"l":-12,"h":12},{"w":7,"t":0.32,"l":-17,"h":17},{"w":7,"t":0.33,"l":-15,"h":15},{"w":7,"t":0.34,"l":-13,"h":13},{"w":7,"t":0.35,"l":-11,"h":11},{"w":7,"t":0.36,"l":-14,"h":14},{"w":7,"t":0.37,"l":-9,"h":9},{"w":7,"t":0.38,"l":-8,"h":8},{"w":7,"t":0.39,"l":-6,"h":6},{"w":7,"t":0.4,"l":-5,"h":5},{"w":7,"t":0.41,"l":-4,"h":4},{"w":7,"t":0.42,"l":-3,"h":3},{"w":7,"t":0.43,"l":-2,"h":2},{"w":7,"t":0.44,"l":-3,"h":3},{"w":7,"t":0.45,"l":-2,"h":2},{"w":7,"t":0.46,"l":-4,"h":4},{"w":7,"t":0.47,"l":-5,"h":5},{"w":7,"t":0.48,"l":-6,"h":6},{"w":7,"t":0.49,"l":-9,"h":9},{"w":7,"t":0.5,"l":-5,"h":5}],
"sp":[
{"s":0,"f":0,"m":1.1},{"s":0,"f":4,"m":0.06},{"s":0,"f":1000,"m":0.06},
{"s":1,"f":0,"m":0.1},{"s":1,"f":58,"m":0.1},{"s":1,"f":62,"m":0.9},{"s":1,"f":67,"m":0.1},{"s":1,"f":121,"m":0.1},{"s":1,"f":125,"m":0.3},{"s":1,"f":129,"m":0.1},{"s":1,"f":183,"m":0.1},{"s":1,"f":187,"m":2.4},{"s":1,"f":192,"m":0.1},{"s":1,"f":308,"m":0.1},{"s":1,"f":312,"m":0.9},{"s":1,"f":317,"m":0.1},{"s":1,"f":683,"m":0.1},{"s":1,"f":687,"m":0.25},{"s":1,"f":691,"m":0.1},{"s":1,"f":808,"m":0.1},{"s":1,"f":812,"m":0.3},{"s":1,"f":816,"m":0.1},{"s":1,"f":1000,"m":0.1},
{"s":2,"f":0,"m":0.3},{"s":2,"f":118,"m":0.3},{"s":2,"f":122,"m":2},{"s":2,"f":125,"m":1.5},{"s":2,"f":128,"m":3},{"s":2,"f":132,"m":0.3},{"s":2,"f":368,"m":0.3},{"s":2,"f":372,"m":10},{"s":2,"f":375,"m":7},{"s":2,"f":378,"m":7.5},{"s":2,"f":382,"m":0.3},{"s":2,"f":433,"m":0.3},{"s":2,"f":437,"m":2.5},{"s":2,"f":440,"m":1.3},{"s":2,"f":444,"m":1.3},{"s":2,"f":447,"m":0.3},{"s":2,"f":556,"m":0.3},{"s":2,"f":560,"m":1.4},{"s":2,"f":563,"m":2.2},{"s":2,"f":567,"m":0.3},{"s":2,"f":617,"m":0.3},{"s":2,"f":621,"m":3.6},{"s":2,"f":624,"m":3.2},{"s":2,"f":627,"m":4},{"s":2,"f":631,"m":0.3},{"s":2,"f":1000,"m":0.3},
{"s":3,"f":0,"m":0.06},{"s":3,"f":121,"m":0.06},{"s":3,"f":125,"m":0.2},{"s":3,"f":129,"m":0.06},{"s":3,"f":183,"m":0.06},{"s":3,"f":187,"m":0.45},{"s":3,"f":191,"m":0.06},{"s":3,"f":308,"m":0.06},{"s":3,"f":312,"m":1},{"s":3,"f":316,"m":0.06},{"s":3,"f":368,"m":0.06},{"s":3,"f":372,"m":1},{"s":3,"f":375,"m":0.7},{"s":3,"f":378,"m":0.75},{"s":3,"f":382,"m":0.06},{"s":3,"f":433,"m":0.06},{"s":3,"f":437,"m":0.35},{"s":3,"f":441,"m":0.06},{"s":3,"f":558,"m":0.06},{"s":3,"f":562,"m":0.12},{"s":3,"f":566,"m":0.06},{"s":3,"f":618,"m":0.06},{"s":3,"f":622,"m":0.4},{"s":3,"f":626,"m":0.55},{"s":3,"f":630,"m":0.06},{"s":3,"f":683,"m":0.06},{"s":3,"f":687,"m":0.25},{"s":3,"f":691,"m":0.06},{"s":3,"f":1000,"m":0.06},
{"s":4,"f":0,"m":0.12},{"s":4,"f":683,"m":0.12},{"s":4,"f":687,"m":0.2},{"s":4,"f":691,"m":0.12},{"s":4,"f":808,"m":0.12},{"s":4,"f":812,"m":0.8},{"s":4,"f":816,"m":0.12},{"s":4,"f":868,"m":0.12},{"s":4,"f":872,"m":1.2},{"s":4,"f":875,"m":0.9},{"s":4,"f":878,"m":1},{"s":4,"f":882,"m":0.12},{"s":4,"f":929,"m":0.12},{"s":4,"f":933,"m":3.9},{"s":4,"f":936,"m":0.12},{"s":4,"f":938,"m":1.3},{"s":4,"f":942,"m":0.12},{"s":4,"f":1000,"m":0.12},
{"s":5,"f":0,"m":0.12},{"s":5,"f":183,"m":0.12},{"s":5,"f":187,"m":0.2},{"s":5,"f":191,"m":0.12},{"s":5,"f":308,"m":0.12},{"s":5,"f":312,"m":0.15},{"s":5,"f":316,"m":0.12},{"s":5,"f":683,"m":0.12},{"s":5,"f":687,"m":0.8},{"s":5,"f":691,"m":0.12},{"s":5,"f":746,"m":0.12},{"s":5,"f":750,"m":0.25},{"s":5,"f":754,"m":0.12},{"s":5,"f":808,"m":0.12},{"s":5,"f":812,"m":2.8},{"s":5,"f":816,"m":0.12},{"s":5,"f":868,"m":0.12},{"s":5,"f":872,"m":1.3},{"s":5,"f":875,"m":0.9},{"s":5,"f":878,"m":0.9},{"s":5,"f":882,"m":0.12},{"s":5,"f":933,"m":0.12},{"s":5,"f":937,"m":1.1},{"s":5,"f":941,"m":0.12},{"s":5,"f":1000,"m":0.12},
{"s":6,"f":0,"m":0.12},{"s":6,"f":368,"m":0.12},{"s":6,"f":372,"m":1.6},{"s":6,"f":375,"m":1.3},{"s":6,"f":378,"m":1.5},{"s":6,"f":382,"m":0.12},{"s":6,"f":433,"m":0.12},{"s":6,"f":437,"m":1.2},{"s":6,"f":441,"m":1.1},{"s":6,"f":445,"m":0.12},{"s":6,"f":553,"m":0.12},{"s":6,"f":557,"m":1.5},{"s":6,"f":560,"m":1.7},{"s":6,"f":564,"m":0.12},{"s":6,"f":617,"m":0.12},{"s":6,"f":621,"m":3.2},{"s":6,"f":624,"m":2.5},{"s":6,"f":627,"m":3.9},{"s":6,"f":631,"m":0.12},{"s":6,"f":683,"m":0.12},{"s":6,"f":687,"m":0.2},{"s":6,"f":691,"m":0.12},{"s":6,"f":868,"m":0.12},{"s":6,"f":872,"m":1.2},{"s":6,"f":875,"m":0.8},{"s":6,"f":878,"m":0.9},{"s":6,"f":882,"m":0.12},{"s":6,"f":1000,"m":0.12},
{"s":7,"f":0,"m":0.15},{"s":7,"f":368,"m":0.15},{"s":7,"f":372,"m":2.1},{"s":7,"f":375,"m":1.5},{"s":7,"f":378,"m":1.6},{"s":7,"f":382,"m":0.15},{"s":7,"f":617,"m":0.15},{"s":7,"f":621,"m":3.2},{"s":7,"f":624,"m":2.6},{"s":7,"f":627,"m":5},{"s":7,"f":631,"m":0.15},{"s":7,"f":683,"m":0.15},{"s":7,"f":687,"m":0.9},{"s":7,"f":691,"m":0.15},{"s":7,"f":746,"m":0.15},{"s":7,"f":750,"m":0.3},{"s":7,"f":754,"m":0.15},{"s":7,"f":808,"m":0.15},{"s":7,"f":812,"m":0.3},{"s":7,"f":816,"m":0.15},{"s":7,"f":868,"m":0.15},{"s":7,"f":872,"m":1.7},{"s":7,"f":875,"m":1},{"s":7,"f":878,"m":1},{"s":7,"f":882,"m":0.15},{"s":7,"f":1000,"m":0.15}]
},
"vconcat":[
{"vconcat":[
{"width":801,"height":415,
"title":{"text":"(a)","font":"Liberation Sans, Arial, sans-serif","fontSize":21,"dx":-69,"offset":18},
"data":{"name":"ph"},
"mark":{"type":"line","color":"#0000ff","strokeWidth":0.9},
"encoding":{
"x":{"field":"x","type":"quantitative","scale":{"domain":[-115.6,109.1],"nice":false,"zero":false},"axis":{"values":[-100,-50,0,50,100],"title":"Xₚ [mv]","tickSize":-7,"labelPadding":15,"titlePadding":3}},
"y":{"field":"y","type":"quantitative","scale":{"domain":[-68.9,47.7],"nice":false,"zero":false},"axis":{"values":[-60,-40,-20,0,20,40],"title":"Yₚ [mv]","tickSize":-7,"labelPadding":17,"titlePadding":18}},
"order":{"field":"i","type":"quantitative"}}},
{"width":801,"height":5.3,"data":{"values":[]},"mark":"text","view":{"stroke":null}},
{"width":801,"height":74.3,"data":{"name":"ts"},
"mark":{"type":"line","color":"#ff0000","strokeWidth":0.8},
"encoding":{
"x":{"field":"t","type":"quantitative","scale":{"domain":[0.1,0.5],"nice":false,"zero":false},"axis":{"values":[0.1,0.15,0.2,0.25,0.3,0.35,0.4,0.45,0.5],"labels":false,"title":null,"tickSize":-5}},
"y":{"field":"x","type":"quantitative","scale":{"domain":[-100,100],"nice":false},"axis":{"values":[-100,0,100],"title":"Xₚ [mv]","tickSize":-5,"labelPadding":13,"titlePadding":10}}}},
{"width":801,"height":74.7,"data":{"name":"ts"},
"mark":{"type":"line","color":"#ff0000","strokeWidth":0.8},
"encoding":{
"x":{"field":"t","type":"quantitative","scale":{"domain":[0.1,0.5],"nice":false,"zero":false},"axis":{"values":[0.1,0.15,0.2,0.25,0.3,0.35,0.4,0.45,0.5],"format":"~g","title":"time [s]","tickSize":-5,"labelPadding":12}},
"y":{"field":"y","type":"quantitative","scale":{"domain":[-100,100],"nice":false},"axis":{"values":[-100,0,100],"title":"Yₚ [mv]","tickSize":-5,"labelPadding":13,"titlePadding":10}}}}
],"spacing":27.7,"bounds":"flush"},
{"concat":[
{"width":335,"height":28,"title":{"text":"(b)","font":"Liberation Sans, Arial, sans-serif","fontSize":21,"dx":-69,"offset":11},"data":{"name":"w0"},"mark":{"type":"line","color":"black","strokeWidth":0.9,"interpolate":"step-after","clip":true},
"encoding":{"x":{"field":"t","type":"quantitative","scale":{"domain":[0,0.5],"nice":false},"axis":{"values":[0,0.1,0.2,0.3,0.4,0.5],"format":"~g","title":null}},"y":{"field":"v","type":"quantitative","scale":{"domain":[-50,50],"nice":false},"axis":{"values":[-50,0,50],"title":"W₃.₀"}}}},
{"width":335,"height":28,"title":{"text":"x10⁴","offset":3},"data":{"name":"sp"},"transform":[{"filter":"datum.s==0"}],"mark":{"type":"line","color":"#0000ff","strokeWidth":1,"clip":true},
"encoding":{"x":{"field":"f","type":"quantitative","scale":{"domain":[0,1000],"nice":false},"axis":{"values":[0,200,400,600,800,1000],"format":"d","title":null}},"y":{"field":"m","type":"quantitative","scale":{"domain":[0,2],"nice":false},"axis":{"values":[0,1,2],"format":"d","title":"mag"}}}},
{"width":335,"height":28,"data":{"name":"w1"},"mark":{"type":"line","color":"black","strokeWidth":0.9,"interpolate":"step-after","clip":true},
"encoding":{"x":{"field":"t","type":"quantitative","scale":{"domain":[0,0.5],"nice":false},"axis":{"values":[0,0.1,0.2,0.3,0.4,0.5],"format":"~g","title":null}},"y":{"field":"v","type":"quantitative","scale":{"domain":[-50,50],"nice":false},"axis":{"values":[-50,0,50],"title":"W₃.₁"}}}},
{"width":335,"height":28,"title":{"text":"x10⁴","offset":3},"data":{"name":"sp"},"transform":[{"filter":"datum.s==1"}],"mark":{"type":"line","color":"#0000ff","strokeWidth":1,"clip":true},
"encoding":{"x":{"field":"f","type":"quantitative","scale":{"domain":[0,1000],"nice":false},"axis":{"values":[0,200,400,600,800,1000],"format":"d","title":null}},"y":{"field":"m","type":"quantitative","scale":{"domain":[0,4],"nice":false},"axis":{"values":[0,2,4],"format":"d","title":"mag"}}}},
{"width":335,"height":28,"data":{"name":"env"},"transform":[{"filter":"datum.w==2"}],"mark":{"type":"area","color":"black","stroke":"black","strokeWidth":0.8,"interpolate":"step","clip":true},
"encoding":{"x":{"field":"t","type":"quantitative","scale":{"domain":[0,0.5],"nice":false},"axis":{"values":[0,0.1,0.2,0.3,0.4,0.5],"format":"~g","title":null}},"y":{"field":"h","type":"quantitative","scale":{"domain":[-50,50],"nice":false},"axis":{"values":[-50,0,50],"title":"W₃.₂"}},"y2":{"field":"l"}}},
{"width":335,"height":28,"title":{"text":"x10³","offset":3},"data":{"name":"sp"},"transform":[{"filter":"datum.s==2"}],"mark":{"type":"line","color":"#0000ff","strokeWidth":1,"clip":true},
"encoding":{"x":{"field":"f","type":"quantitative","scale":{"domain":[0,1000],"nice":false},"axis":{"values":[0,200,400,600,800,1000],"format":"d","title":null}},"y":{"field":"m","type":"quantitative","scale":{"domain":[0,10],"nice":false},"axis":{"values":[0,5,10],"format":"d","title":"mag"}}}},
{"width":335,"height":28,"data":{"name":"env"},"transform":[{"filter":"datum.w==3"}],"mark":{"type":"area","color":"black","stroke":"black","strokeWidth":0.8,"interpolate":"step","clip":true},
"encoding":{"x":{"field":"t","type":"quantitative","scale":{"domain":[0,0.5],"nice":false},"axis":{"values":[0,0.1,0.2,0.3,0.4,0.5],"format":"~g","title":null}},"y":{"field":"h","type":"quantitative","scale":{"domain":[-50,50],"nice":false},"axis":{"values":[-50,0,50],"title":"W₃.₃"}},"y2":{"field":"l"}}},
{"width":335,"height":28,"title":{"text":"x10⁴","offset":3},"data":{"name":"sp"},"transform":[{"filter":"datum.s==3"}],"mark":{"type":"line","color":"#0000ff","strokeWidth":1,"clip":true},
"encoding":{"x":{"field":"f","type":"quantitative","scale":{"domain":[0,1000],"nice":false},"axis":{"values":[0,200,400,600,800,1000],"format":"d","title":null}},"y":{"field":"m","type":"quantitative","scale":{"domain":[0,2],"nice":false},"axis":{"values":[0,1,2],"format":"d","title":"mag"}}}},
{"width":335,"height":28,"data":{"name":"env"},"transform":[{"filter":"datum.w==4"}],"mark":{"type":"area","color":"black","stroke":"black","strokeWidth":0.8,"interpolate":"step","clip":true},
"encoding":{"x":{"field":"t","type":"quantitative","scale":{"domain":[0,0.5],"nice":false},"axis":{"values":[0,0.1,0.2,0.3,0.4,0.5],"format":"~g","title":null}},"y":{"field":"h","type":"quantitative","scale":{"domain":[-20,20],"nice":false},"axis":{"values":[-20,0,20],"title":"W₃.₄"}},"y2":{"field":"l"}}},
{"width":335,"height":28,"title":{"text":"x10³","offset":3},"data":{"name":"sp"},"transform":[{"filter":"datum.s==4"}],"mark":{"type":"line","color":"#0000ff","strokeWidth":1,"clip":true},
"encoding":{"x":{"field":"f","type":"quantitative","scale":{"domain":[0,1000],"nice":false},"axis":{"values":[0,200,400,600,800,1000],"format":"d","title":null}},"y":{"field":"m","type":"quantitative","scale":{"domain":[0,4],"nice":false},"axis":{"values":[0,2,4],"format":"d","title":"mag"}}}},
{"width":335,"height":28,"data":{"name":"env"},"transform":[{"filter":"datum.w==5"}],"mark":{"type":"area","color":"black","stroke":"black","strokeWidth":0.8,"interpolate":"step","clip":true},
"encoding":{"x":{"field":"t","type":"quantitative","scale":{"domain":[0,0.5],"nice":false},"axis":{"values":[0,0.1,0.2,0.3,0.4,0.5],"format":"~g","title":null}},"y":{"field":"h","type":"quantitative","scale":{"domain":[-20,20],"nice":false},"axis":{"values":[-20,0,20],"title":"W₃.₅"}},"y2":{"field":"l"}}},
{"width":335,"height":28,"title":{"text":"x10³","offset":3},"data":{"name":"sp"},"transform":[{"filter":"datum.s==5"}],"mark":{"type":"line","color":"#0000ff","strokeWidth":1,"clip":true},
"encoding":{"x":{"field":"f","type":"quantitative","scale":{"domain":[0,1000],"nice":false},"axis":{"values":[0,200,400,600,800,1000],"format":"d","title":null}},"y":{"field":"m","type":"quantitative","scale":{"domain":[0,4],"nice":false},"axis":{"values":[0,2,4],"format":"d","title":"mag"}}}},
{"width":335,"height":28,"data":{"name":"env"},"transform":[{"filter":"datum.w==6"}],"mark":{"type":"area","color":"black","stroke":"black","strokeWidth":0.8,"interpolate":"step","clip":true},
"encoding":{"x":{"field":"t","type":"quantitative","scale":{"domain":[0,0.5],"nice":false},"axis":{"values":[0,0.1,0.2,0.3,0.4,0.5],"format":"~g","title":null}},"y":{"field":"h","type":"quantitative","scale":{"domain":[-20,20],"nice":false},"axis":{"values":[-20,0,20],"title":"W₃.₆"}},"y2":{"field":"l"}}},
{"width":335,"height":28,"title":{"text":"x10³","offset":3},"data":{"name":"sp"},"transform":[{"filter":"datum.s==6"}],"mark":{"type":"line","color":"#0000ff","strokeWidth":1,"clip":true},
"encoding":{"x":{"field":"f","type":"quantitative","scale":{"domain":[0,1000],"nice":false},"axis":{"values":[0,200,400,600,800,1000],"format":"d","title":null}},"y":{"field":"m","type":"quantitative","scale":{"domain":[0,4],"nice":false},"axis":{"values":[0,2,4],"format":"d","title":"mag"}}}},
{"width":335,"height":28,"data":{"name":"env"},"transform":[{"filter":"datum.w==7"}],"mark":{"type":"area","color":"black","stroke":"black","strokeWidth":0.8,"interpolate":"step","clip":true},
"encoding":{"x":{"field":"t","type":"quantitative","scale":{"domain":[0,0.5],"nice":false},"axis":{"values":[0,0.1,0.2,0.3,0.4,0.5],"format":"~g","title":"time [s]"}},"y":{"field":"h","type":"quantitative","scale":{"domain":[-20,20],"nice":false},"axis":{"values":[-20,0,20],"title":"W₃.₇"}},"y2":{"field":"l"}}},
{"width":335,"height":28,"title":{"text":"x10³","offset":3},"data":{"name":"sp"},"transform":[{"filter":"datum.s==7"}],"mark":{"type":"line","color":"#0000ff","strokeWidth":1,"clip":true},
"encoding":{"x":{"field":"f","type":"quantitative","scale":{"domain":[0,1000],"nice":false},"axis":{"values":[0,200,400,600,800,1000],"format":"d","title":"frequency [Hz]"}},"y":{"field":"m","type":"quantitative","scale":{"domain":[0,5],"nice":false},"axis":{"values":[0,5],"format":"d","title":"mag"}}}}
],"columns":2,"spacing":{"row":69.2,"column":59},"bounds":"flush"}
]
}
